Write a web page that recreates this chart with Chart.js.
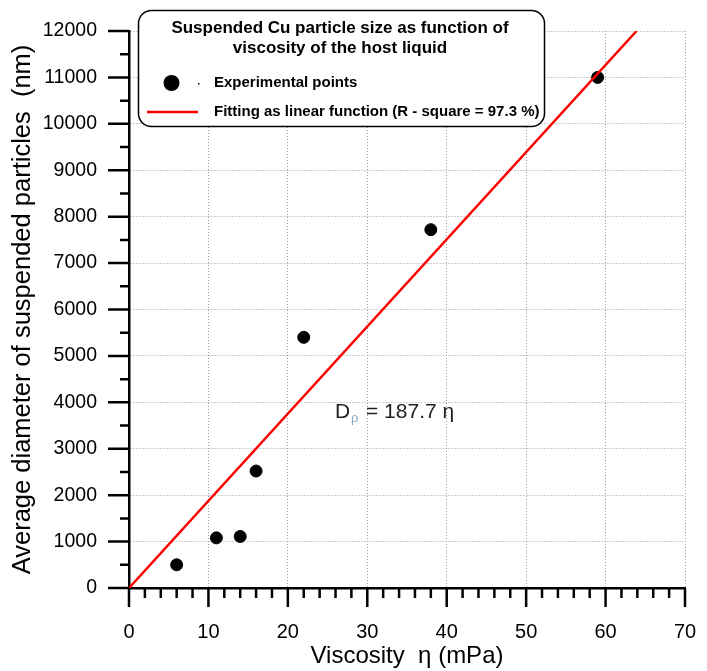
<!DOCTYPE html>
<html>
<head>
<meta charset="utf-8">
<script src="https://cdn.jsdelivr.net/npm/chart.js@4"></script>
<style>
  html, body { margin: 0; padding: 0; background: #fff; }
  #wrap { width: 707px; height: 671px; }
</style>
</head>
<body>
<div id="wrap"><canvas id="chart"></canvas></div>
<script>
// measured points
const viscosity = [6, 11, 14, 16, 22, 38, 59];
const diameter = [500, 1080, 1110, 2520, 5400, 7720, 11000];
// fitted line D = 187.7 * eta, end points
const fitX = [0, 63.9];
const fitY = [0, 12000];

const legendTitle = ['Suspended Cu particle size as function of', 'viscosity of the host liquid'];
const legendLabels = ['Experimental points', 'Fitting as linear function (R - square = 97.3 %)'];

const FONT = '"Liberation Sans", Arial, sans-serif';

// tick marks drawn outward: long at labels, short in between
const axisTicks = {
  id: 'axisTicks',
  afterDatasetsDraw(chart) {
    const ctx = chart.ctx;
    const x = chart.scales.x, y = chart.scales.y;
    const y0 = y.getPixelForValue(0);
    const x0 = x.getPixelForValue(0);
    ctx.save();
    ctx.strokeStyle = '#000';
    ctx.lineWidth = 2.5;
    ctx.beginPath();
    for (let v = 0; v <= 70; v += 2) {
      const px = x.getPixelForValue(v);
      ctx.moveTo(px, y0);
      ctx.lineTo(px, y0 + (v % 10 === 0 ? 19 : 10));
    }
    for (let v = 0; v <= 12000; v += 500) {
      const py = y.getPixelForValue(v);
      ctx.moveTo(x0 - (v % 1000 === 0 ? 21 : 9), py);
      ctx.lineTo(x0, py);
    }
    ctx.stroke();
    ctx.restore();
  },
  afterDraw(chart) {
    const ctx = chart.ctx;
    ctx.save();
    // legend box
    ctx.fillStyle = '#fff';
    ctx.strokeStyle = '#000';
    ctx.lineWidth = 1.5;
    ctx.beginPath();
    ctx.roundRect(138.5, 10.5, 406, 116, 13);
    ctx.fill();
    ctx.stroke();

    ctx.fillStyle = '#000';
    ctx.textAlign = 'center';
    ctx.textBaseline = 'middle';
    ctx.font = 'bold 17px ' + FONT;
    ctx.fillText(legendTitle[0], 340, 28);
    ctx.fillText(legendTitle[1], 340, 48);

    ctx.beginPath();
    ctx.arc(171.5, 83, 8, 0, Math.PI * 2);
    ctx.fill();
    ctx.fillRect(198, 83, 1.5, 1.5);

    ctx.strokeStyle = '#ff0000';
    ctx.lineWidth = 2.5;
    ctx.beginPath();
    ctx.moveTo(147, 112);
    ctx.lineTo(198, 112);
    ctx.stroke();

    ctx.textAlign = 'left';
    ctx.font = 'bold 15px ' + FONT;
    ctx.fillText(legendLabels[0], 214, 83);
    ctx.fillText(legendLabels[1], 214, 112);

    // equation label
    ctx.textBaseline = 'alphabetic';
    ctx.fillStyle = '#222';
    ctx.font = '21px ' + FONT;
    ctx.fillText('D', 335, 418);
    ctx.fillStyle = '#7fa6c4';
    ctx.font = '13px ' + FONT;
    ctx.fillText('\u03c1', 351, 422);
    ctx.fillStyle = '#222';
    ctx.font = '21px ' + FONT;
    ctx.fillText('= 187.7 \u03b7', 366, 418);
    ctx.restore();
  }
};

new Chart(document.getElementById('chart'), {
  type: 'scatter',
  data: {
    datasets: [
      {
        label: legendLabels[1],
        type: 'line',
        data: fitX.map((v, i) => ({ x: v, y: fitY[i] })),
        borderColor: '#ff0000',
        borderWidth: 2.5,
        pointRadius: 0,
        fill: false,
      },
      {
        label: legendLabels[0],
        data: viscosity.map((v, i) => ({ x: v, y: diameter[i] })),
        backgroundColor: '#000',
        borderColor: '#000',
        pointRadius: 6,
      },
    ],
  },
  options: {
    responsive: true,
    maintainAspectRatio: false,
    animation: false,
    layout: { padding: { left: 0, right: 22, top: 31, bottom: 0 } },
    plugins: {
      legend: { display: false },
      tooltip: { enabled: false },
    },
    scales: {
      x: {
        type: 'linear',
        min: 0,
        max: 70,
        ticks: {
          stepSize: 10, color: '#000', padding: 32,
          font: { family: FONT, size: 20 },
          callback: (v) => String(v),
        },
        grid: { color: '#9a9a9a', lineWidth: 1, drawTicks: false },
        border: { display: true, color: '#000', width: 2.5, dash: [1, 2] },
        title: {
          display: true,
          text: 'Viscosity  \u03b7 (mPa)',
          color: '#000',
          font: { family: FONT, size: 24 },
          padding: { top: 0, bottom: 0 },
        },
        afterFit(s) { s.height = 83; s.paddingLeft = 0; s.paddingRight = 0; },
      },
      y: {
        type: 'linear',
        min: 0,
        max: 12000,
        ticks: {
          stepSize: 1000, color: '#000', padding: 32,
          font: { family: FONT, size: 19.5 },
          callback: (v) => String(v),
        },
        grid: { color: '#9a9a9a', lineWidth: 1, drawTicks: false },
        border: { display: true, color: '#000', width: 2.5, dash: [1, 2] },
        title: {
          display: true,
          text: 'Average diameter of suspended particles  (nm)',
          color: '#000',
          font: { family: FONT, size: 25.5 },
          padding: { top: 8, bottom: 0 },
        },
        afterFit(s) { s.width = 129; s.paddingTop = 0; s.paddingBottom = 0; },
      },
    },
  },
  plugins: [axisTicks],
});
</script>
</body>
</html>
